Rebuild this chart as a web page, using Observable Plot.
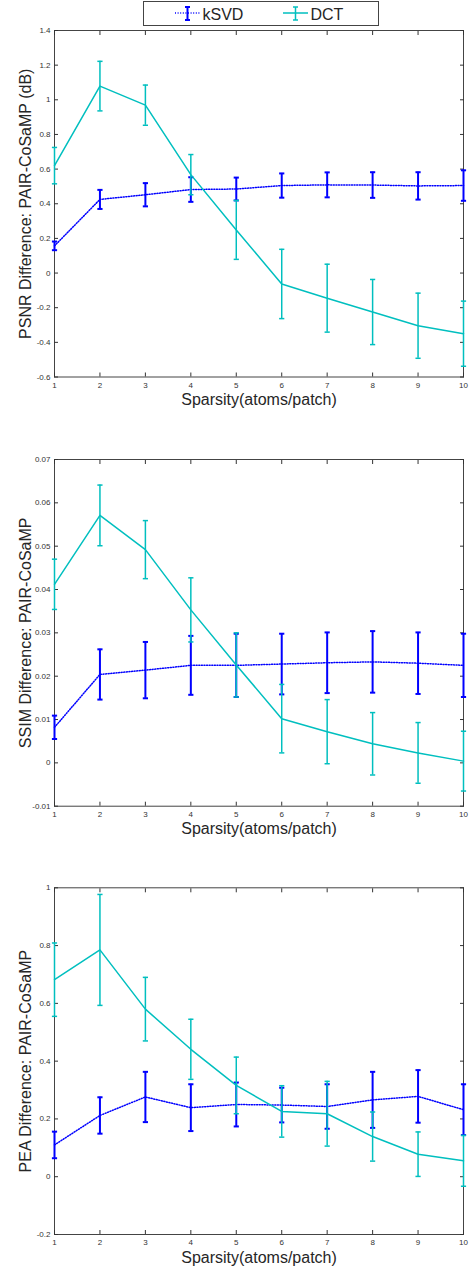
<!DOCTYPE html>
<html><head><meta charset="utf-8">
<script src="https://cdn.jsdelivr.net/npm/d3@7"></script>
<script src="https://cdn.jsdelivr.net/npm/@observablehq/plot@0.6"></script>
<style>
body{margin:0;background:#fff;font-family:"Liberation Sans",Arial,sans-serif;}
#wrap{position:relative;width:469px;height:1270px;overflow:hidden;}
.panel{position:absolute;left:0;}
#legend{position:absolute;left:143px;top:1px;width:236px;height:25px;border:1px solid #444;background:#fff;box-sizing:border-box;z-index:5}
#legend svg{display:block}
</style></head><body><div id="wrap"><div id="legend"></div></div>
<script>
// ---- data ----
const sparsity = [1, 2, 3, 4, 5, 6, 7, 8, 9, 10];
const seriesNames = ["kSVD", "DCT"];

const psnrKsvd    = [0.157, 0.425, 0.452, 0.482, 0.485, 0.505, 0.509, 0.508, 0.503, 0.505];
const psnrKsvdErr = [0.025, 0.055, 0.067, 0.071, 0.066, 0.070, 0.072, 0.074, 0.079, 0.088];
const psnrDct     = [0.620, 1.079, 0.969, 0.568, 0.249, -0.063, -0.145, -0.225, -0.304, -0.350];
const psnrDctErr  = [0.105, 0.143, 0.116, 0.116, 0.170, 0.200, 0.196, 0.188, 0.188, 0.188];
const psnrTicks   = [-0.6, -0.4, -0.2, 0, 0.2, 0.4, 0.6, 0.8, 1, 1.2, 1.4];

const ssimKsvd    = [0.0082, 0.0204, 0.0214, 0.0225, 0.0225, 0.0228, 0.0231, 0.0233, 0.0230, 0.0225];
const ssimKsvdErr = [0.0027, 0.0058, 0.0065, 0.0068, 0.0073, 0.0070, 0.0070, 0.0071, 0.0071, 0.0073];
const ssimDct     = [0.0412, 0.0571, 0.0492, 0.0353, 0.0226, 0.0102, 0.0072, 0.0044, 0.0023, 0.0004];
const ssimDctErr  = [0.0058, 0.0070, 0.0067, 0.0074, 0.0074, 0.0079, 0.0074, 0.0072, 0.0070, 0.0069];
const ssimTicks   = [-0.01, 0, 0.01, 0.02, 0.03, 0.04, 0.05, 0.06, 0.07];

const peaKsvd     = [0.110, 0.212, 0.276, 0.239, 0.250, 0.248, 0.243, 0.266, 0.278, 0.232];
const peaKsvdErr  = [0.046, 0.063, 0.087, 0.081, 0.076, 0.060, 0.077, 0.097, 0.091, 0.088];
const peaDct      = [0.682, 0.785, 0.580, 0.441, 0.316, 0.226, 0.218, 0.139, 0.078, 0.055];
const peaDctErr   = [0.127, 0.192, 0.110, 0.104, 0.098, 0.089, 0.112, 0.085, 0.077, 0.088];
const peaTicks    = [-0.2, 0, 0.2, 0.4, 0.6, 0.8, 1];

const xLabel = "Sparsity(atoms/patch)";
const yLabels = ["PSNR Difference: PAIR-CoSaMP (dB)", "SSIM Difference: PAIR-CoSaMP", "PEA Difference: PAIR-CoSaMP"];

// ---- styles ----
const BLUE = "#0000ff", CYAN = "#00bfbf";
const FONT = "Liberation Sans, Arial, Helvetica, sans-serif";
const DOTS = "1,1.6";
const cap = {draw(ctx, size) { const r = Math.sqrt(size / Math.PI); ctx.moveTo(-r, 0); ctx.lineTo(r, 0); }};
const fmt = d => String(+(+d).toFixed(4));

function seriesMarks(rows, color, dashed) {
  const w = dashed ? 2 : 1.5;
  return [
    Plot.line(rows, {x: "x", y: "y", stroke: color, strokeWidth: 1.5, strokeDasharray: dashed ? DOTS : null}),
    Plot.ruleX(rows, {x: "x", y1: "lo", y2: "hi", stroke: color, strokeWidth: w}),
    Plot.dot(rows, {x: "x", y: "lo", symbol: cap, r: 2.6, fill: "none", stroke: color, strokeWidth: w}),
    Plot.dot(rows, {x: "x", y: "hi", symbol: cap, r: 2.6, fill: "none", stroke: color, strokeWidth: w})
  ];
}

function panel({top, height, mt, mb, domain, ticks, label, ks, ksE, dc, dcE}) {
  const rows = (v, e) => sparsity.map((x, i) => ({x, y: v[i], lo: v[i] - e[i], hi: v[i] + e[i]}));
  const chart = Plot.plot({
    width: 469, height, marginLeft: 54, marginRight: 6, marginTop: mt, marginBottom: mb,
    x: {domain: [1, 10]},
    y: {domain},
    style: {fontFamily: FONT, background: "transparent", overflow: "visible"},
    marks: [
      Plot.frame({stroke: "#444", strokeWidth: 1}),
      Plot.axisX({anchor: "bottom", ticks: sparsity, tickSize: -4, tickPadding: 9, fontSize: 8, color: "#333", stroke: "#333", label: null, tickFormat: fmt}),
      Plot.axisX({anchor: "top", ticks: sparsity, tickSize: -4, tickFormat: () => "", label: null, stroke: "#333"}),
      Plot.axisY({anchor: "left", ticks, tickSize: -4, tickPadding: 8, fontSize: 8, color: "#333", stroke: "#333", label: null, tickFormat: fmt}),
      Plot.axisY({anchor: "right", ticks, tickSize: -4, tickFormat: () => "", label: null, stroke: "#333"}),
      ...seriesMarks(rows(ks, ksE), BLUE, true),
      ...seriesMarks(rows(dc, dcE), CYAN, false),
      Plot.text([xLabel], {text: d => d, frameAnchor: "bottom", dy: 23, textAnchor: "middle", lineAnchor: "middle", fontSize: 16, fill: "#262626"}),
      Plot.text([label], {text: d => d, frameAnchor: "left", dx: -29, rotate: -90, textAnchor: "middle", lineAnchor: "middle", fontSize: 16, fill: "#262626"})
    ]
  });
  chart.classList.add("panel");
  chart.style.top = top + "px";
  document.getElementById("wrap").appendChild(chart);
}

panel({top: 0, height: 412, mt: 30, mb: 35.5, domain: [-0.6, 1.4], ticks: psnrTicks, label: yLabels[0],
  ks: psnrKsvd, ksE: psnrKsvdErr, dc: psnrDct, dcE: psnrDctErr});
panel({top: 420, height: 420, mt: 39, mb: 34.3, domain: [-0.01, 0.07], ticks: ssimTicks, label: yLabels[1],
  ks: ssimKsvd, ksE: ssimKsvdErr, dc: ssimDct, dcE: ssimDctErr});
panel({top: 850, height: 420, mt: 37.3, mb: 36, domain: [-0.2, 1], ticks: peaTicks, label: yLabels[2],
  ks: peaKsvd, ksE: peaKsvdErr, dc: peaDct, dcE: peaDctErr});

// ---- legend ----
const lg = d3.select("#legend").append("svg").attr("width", 234).attr("height", 23);
function legendItem(x0, color, dashed, name) {
  const w = dashed ? 2 : 1.5;
  lg.append("line").attr("x1", x0).attr("x2", x0 + 25).attr("y1", 11).attr("y2", 11)
    .attr("stroke", color).attr("stroke-width", 1.5).attr("stroke-dasharray", dashed ? DOTS : null);
  const cx = x0 + 12.5;
  lg.append("line").attr("x1", cx).attr("x2", cx).attr("y1", 5).attr("y2", 18).attr("stroke", color).attr("stroke-width", w);
  lg.append("line").attr("x1", cx - 2.5).attr("x2", cx + 2.5).attr("y1", 5).attr("y2", 5).attr("stroke", color).attr("stroke-width", w);
  lg.append("line").attr("x1", cx - 2.5).attr("x2", cx + 2.5).attr("y1", 18).attr("y2", 18).attr("stroke", color).attr("stroke-width", w);
  lg.append("text").attr("x", x0 + 27.5).attr("y", 17.5).attr("font-family", FONT).attr("font-size", 16).attr("fill", "#262626").text(name);
}
legendItem(31, BLUE, true, seriesNames[0]);
legendItem(139, CYAN, false, seriesNames[1]);
</script>
</body></html>
